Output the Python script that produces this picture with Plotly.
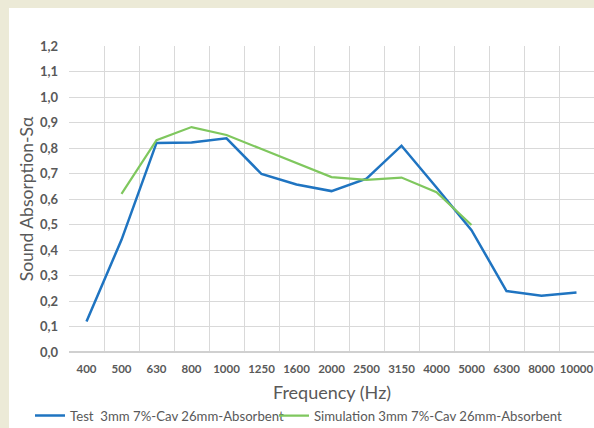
import plotly.graph_objects as go

freqs = ["400", "500", "630", "800", "1000", "1250", "1600", "2000", "2500",
         "3150", "4000", "5000", "6300", "8000", "10000"]
test_vals = [0.12, 0.44, 0.82, 0.822, 0.838, 0.698, 0.657, 0.631, 0.68,
             0.809, 0.645, 0.478, 0.239, 0.221, 0.233]
sim_vals = [None, 0.62, 0.831, 0.882, 0.851, 0.796, 0.741, 0.686, 0.675,
            0.684, 0.627, 0.498, None, None, None]
y_ticks = [i / 10 for i in range(13)]
y_ticktext = [f"{v:.1f}".replace(".", ",") for v in y_ticks]
x_title = "Frequency (Hz)"
y_title = "Sound Absorption-Sα"

font_fam = "Lato, 'Open Sans', sans-serif"
gray = "#595959"
W, H = 594, 428

fig = go.Figure()
fig.add_trace(go.Scatter(x=freqs, y=test_vals, mode="lines",
                         name="Test  3mm 7%-Cav 26mm-Absorbent",
                         line=dict(color="#1F74C1", width=2.5), legend="legend"))
fig.add_trace(go.Scatter(x=freqs, y=sim_vals, mode="lines",
                         name="Simulation 3mm 7%-Cav 26mm-Absorbent",
                         line=dict(color="#7FC75E", width=2.2), legend="legend2"))

leg_common = dict(orientation="h", xref="container", yref="container",
                  xanchor="left", yanchor="middle", y=(H - 416) / H,
                  font=dict(size=13.2, color=gray), bgcolor="rgba(0,0,0,0)",
                  itemwidth=30, borderwidth=0)

fig.update_layout(
    width=W, height=H,
    margin=dict(l=69, r=0, t=46, b=76, autoexpand=False),
    paper_bgcolor="#ECEAD7",
    plot_bgcolor="white",
    font=dict(family=font_fam, color=gray),
    showlegend=True,
    legend=dict(leg_common, x=30 / W),
    legend2=dict(leg_common, x=274 / W),
    shapes=[dict(type="rect", xref="paper", yref="paper",
                 x0=(9 - 69) / 525, x1=1.01, y0=(352 - 440) / 306, y1=(352 - 8) / 306,
                 fillcolor="white", line=dict(width=0), layer="below")],
    annotations=[dict(text=x_title, xref="paper", yref="paper", x=0.5,
                      y=(352 - 392) / 306, xanchor="center", yanchor="middle",
                      showarrow=False, font=dict(size=18, color=gray, family=font_fam))],
)
fig.update_xaxes(
    type="category", range=[-0.5, 14.5], tickson="boundaries", tickangle=0,
    showgrid=True, gridcolor="#D9D9D9", gridwidth=1,
    ticks="", showline=False, zeroline=False, automargin=False,
    ticklabelstandoff=8,
    tickfont=dict(size=11.5, color=gray, family=font_fam, weight="bold"),
)
fig.update_yaxes(
    range=[0, 1.2], tickvals=y_ticks, ticktext=y_ticktext,
    showgrid=True, gridcolor="#D9D9D9", gridwidth=1,
    zeroline=True, zerolinecolor="#D0D0D0", zerolinewidth=1.5,
    ticks="", showline=False, automargin=False,
    ticklabelstandoff=10,
    tickfont=dict(size=13, color=gray, family=font_fam, weight="bold"),
    title=dict(text=y_title, font=dict(size=17.5, color=gray), standoff=1),
)

fig.write_html("out.html")
